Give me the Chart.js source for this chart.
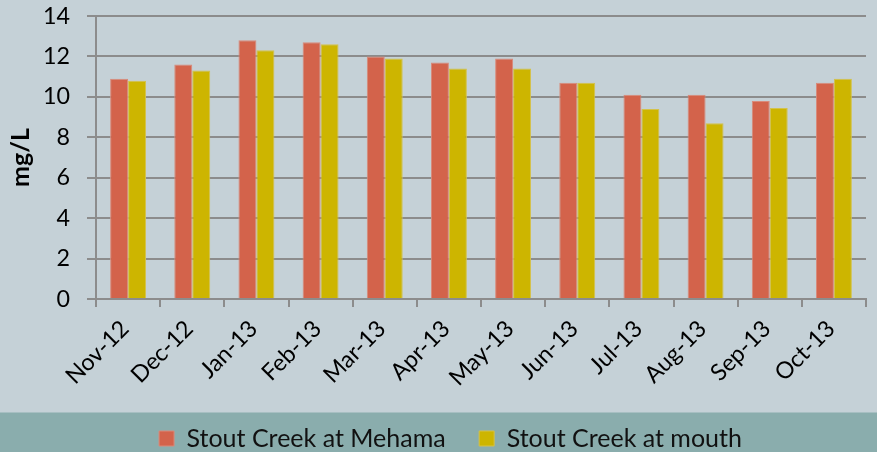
<!DOCTYPE html>
<html>
<head>
<meta charset="utf-8">
<script src="https://cdn.jsdelivr.net/npm/chart.js@4/dist/chart.umd.min.js"></script>
<style>
  html, body { margin: 0; padding: 0; background: #c5d1d7; }
  #wrap { width: 877px; height: 452px; position: relative; }
</style>
</head>
<body>
<div id="wrap"><canvas id="c" width="877" height="452"></canvas></div>
<script>
const categories = ['Nov-12','Dec-12','Jan-13','Feb-13','Mar-13','Apr-13','May-13','Jun-13','Jul-13','Aug-13','Sep-13','Oct-13'];
const seriesNames = ['Stout Creek at Mehama', 'Stout Creek at mouth'];
const mehama = [10.9, 11.6, 12.8, 12.7, 12.0, 11.7, 11.9, 10.7, 10.1, 10.1, 9.8, 10.7];
const mouth  = [10.8, 11.3, 12.3, 12.6, 11.9, 11.4, 11.4, 10.7, 9.4, 8.7, 9.45, 10.9];
const yTicks = [0, 2, 4, 6, 8, 10, 12, 14];
const yTitle = 'mg/L';

const bandPlugin = {
  id: 'band',
  afterLayout(chart) {
    // shift legend block slightly right, as in the reference
    chart.legend.left += 17.5;
    chart.legend.right += 17.5;
    // let the rotated x labels run into the legend zone without being clipped
    chart.scales.x.bottom = chart.height;
  },
  beforeDraw(chart) {
    const ctx = chart.ctx;
    ctx.save();
    ctx.fillStyle = '#c5d1d7';
    ctx.fillRect(0, 0, chart.width, chart.height);
    const top = chart.legend.top + 20;
    ctx.fillStyle = '#8aadad';
    ctx.fillRect(0, top, chart.width, chart.height - top);
    ctx.restore();
  }
};

new Chart(document.getElementById('c'), {
  type: 'bar',
  data: {
    labels: categories,
    datasets: [
      { label: seriesNames[0], data: mehama, backgroundColor: '#d3634b', borderColor: '#d98a7a', borderWidth: 1, categoryPercentage: 0.56, barPercentage: 1.0 },
      { label: seriesNames[1], data: mouth, backgroundColor: '#cdb500', borderColor: '#d4c24a', borderWidth: 1, categoryPercentage: 0.56, barPercentage: 1.0 }
    ]
  },
  options: {
    responsive: false,
    animation: false,
    devicePixelRatio: 1,
    layout: { padding: { top: 16, right: 11, left: 0, bottom: 0 } },
    plugins: {
      tooltip: { enabled: false },
      legend: {
        position: 'bottom',
        maxHeight: 59.5,
        labels: {
          boxWidth: 15, boxHeight: 15, padding: 33.5,
          color: '#111',
          font: { family: 'Lato', size: 25 }
        }
      }
    },
    scales: {
      x: {
        grid: { drawOnChartArea: false, drawTicks: true, tickLength: 8, color: '#8c8c8c', lineWidth: 2 },
        border: { display: true, color: '#8c8c8c', width: 2 },
        ticks: { maxRotation: 45, minRotation: 45, padding: 8, labelOffset: -3, color: '#000', font: { family: 'Lato', size: 23.3 } },
        afterFit(scale) { scale.height = 93.5; }
      },
      y: {
        min: 0, max: 14,
        afterBuildTicks(scale) { scale.ticks = yTicks.map(v => ({ value: v })); },
        grid: { color: '#8c8c8c', lineWidth: 2, tickLength: 9, drawTicks: true },
        border: { display: true, color: '#8c8c8c', width: 2 },
        ticks: { padding: 17, color: '#000', font: { family: 'Lato', size: 23.3 } },
        title: { display: true, text: yTitle, color: '#000', padding: { top: 6, bottom: 0 }, font: { family: 'Lato', size: 25, weight: 'bold' } },
        afterFit(scale) { scale.width = 96; scale.paddingTop = 0; scale.paddingBottom = 0; }
      }
    }
  },
  plugins: [bandPlugin]
});
</script>
</body>
</html>
